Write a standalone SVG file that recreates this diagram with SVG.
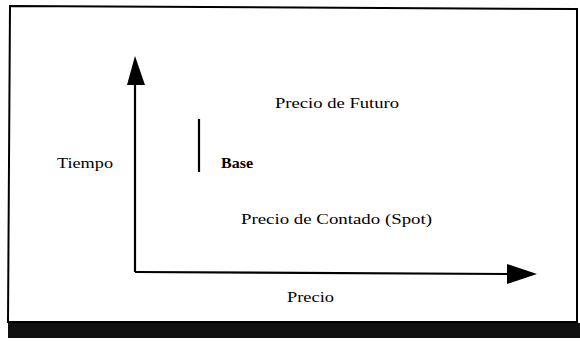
<svg xmlns="http://www.w3.org/2000/svg" width="580" height="341" viewBox="0 0 580 341">
<style>
.t{font-family:"Liberation Serif",serif;font-size:15.5px;fill:#000}
.ax{stroke:#000;stroke-width:2.2;fill:none}
.ah{fill:#000}
</style>
<rect width="580" height="341" fill="#fff"/>
<g id="frame">
<path d="M10,6 L577,9 L577,322 L8,322 Z" fill="none" stroke="#000" stroke-width="2"/>
<rect x="8" y="323" width="572" height="15" fill="#111"/>
</g>
<g id="connectors">
<path class="ax" d="M135,272 L135,84"/>
<polygon class="ah" points="135,56 127,85 145,85"/>
<path class="ax" d="M135,272 L508,274"/>
<polygon class="ah" points="537,274 507,264 507,284"/>
<path class="ax" d="M199,119 L199,172" stroke-width="2.5"/>
</g>
<g id="n-futuro"><text class="t" x="275" y="108" textLength="124" lengthAdjust="spacingAndGlyphs">Precio de Futuro</text></g>
<g id="n-tiempo"><text class="t" x="57" y="168" textLength="56" lengthAdjust="spacingAndGlyphs">Tiempo</text></g>
<g id="n-base"><text class="t" x="221" y="168" font-weight="bold" textLength="32" lengthAdjust="spacingAndGlyphs">Base</text></g>
<g id="n-spot"><text class="t" x="241" y="224" textLength="191" lengthAdjust="spacingAndGlyphs">Precio de Contado (Spot)</text></g>
<g id="n-precio"><text class="t" x="287" y="302" textLength="47" lengthAdjust="spacingAndGlyphs">Precio</text></g>
</svg>
